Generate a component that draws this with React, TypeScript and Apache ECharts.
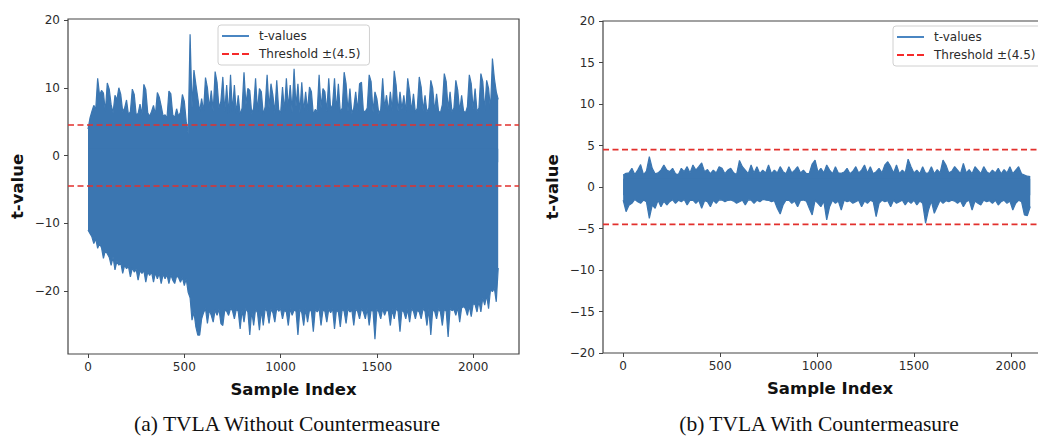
import React, { useEffect, useRef } from 'react';
import * as echarts from 'echarts';

// ---- data ----
// sample-index step between consecutive outline readings
const LEFT_STEP = 10;
const RIGHT_STEP = 15;

// (a) without countermeasure: upper / lower envelope of the t-value trace
const LEFT_UPPER = [
  3.9, 5.5, 6.5, 7.4, 6.8, 11.4, 8.9, 9.6, 9.2, 6.5,
  10.7, 9.8, 7.5, 6.3, 8.9, 8.2, 10.0, 9.0, 6.5, 7.0,
  8.2, 6.0, 6.5, 9.8, 9.0, 6.0, 6.2, 7.6, 6.0, 10.5,
  9.7, 6.3, 5.8, 6.5, 7.4, 6.0, 9.3, 8.6, 7.3, 5.8,
  6.0, 5.5, 9.5, 9.1, 6.0, 5.6, 6.9, 5.8, 6.4, 9.0,
  8.0, 5.0, 3.2, 17.9, 7.0, 12.6, 10.5, 8.5, 6.5, 8.4,
  6.5, 11.5, 10.0, 7.0, 9.6, 6.5, 12.4, 10.8, 7.0, 8.0,
  11.6, 6.5, 10.4, 6.0, 11.9, 6.5, 10.4, 6.2, 8.9, 6.0,
  7.0, 12.3, 7.5, 9.9, 9.6, 6.2, 7.0, 11.4, 6.5, 9.9,
  9.4, 6.0, 7.2, 11.9, 7.0, 10.6, 8.9, 6.3, 11.1, 6.8,
  6.2, 10.1, 6.5, 11.4, 7.0, 10.4, 6.4, 12.8, 7.2, 10.6,
  6.3, 10.8, 6.5, 9.4, 6.6, 10.1, 9.4, 6.0, 6.8, 6.4,
  11.9, 7.0, 9.9, 9.4, 6.5, 11.4, 6.8, 7.5, 11.4, 6.6,
  10.6, 6.4, 7.0, 12.3, 10.6, 6.5, 9.9, 6.2, 7.0, 9.4,
  6.6, 10.6, 10.8, 6.5, 6.5, 7.0, 11.9, 10.9, 6.4, 9.4,
  8.4, 6.2, 6.8, 11.4, 7.0, 8.9, 6.5, 9.4, 6.6, 12.5,
  10.4, 6.5, 9.4, 6.8, 8.9, 6.4, 11.4, 9.4, 6.5, 9.1,
  6.3, 7.0, 11.6, 10.1, 6.6, 8.9, 6.4, 7.0, 11.1, 9.9,
  6.5, 9.1, 6.6, 6.3, 7.5, 12.1, 10.9, 6.8, 9.4, 6.4,
  7.0, 11.1, 9.6, 6.5, 8.9, 6.6, 6.3, 7.2, 11.9, 10.6,
  6.8, 9.9, 6.5, 7.0, 12.1, 10.9, 6.6, 11.1, 9.9, 6.8,
  14.3, 11.4, 9.4, 8.3,
];
const LEFT_LOWER = [
  -11.0, -11.5, -12.0, -13.0, -12.3, -13.7, -13.0, -13.6, -15.2, -14.0,
  -14.5, -15.0, -16.2, -15.0, -16.9, -15.6, -16.2, -15.8, -17.4, -16.2,
  -16.7, -16.4, -17.9, -16.6, -17.2, -16.8, -18.4, -17.0, -17.4, -17.0,
  -18.7, -17.2, -17.7, -17.2, -18.7, -17.3, -18.2, -17.4, -18.9, -17.5,
  -18.2, -17.6, -18.9, -17.6, -18.4, -18.9, -17.8, -18.0, -18.7, -18.0,
  -19.2, -18.2, -20.2, -21.0, -24.3, -23.1, -25.3, -26.5, -26.5, -24.1,
  -23.2, -22.6, -24.8, -22.8, -23.6, -24.6, -22.8, -23.6, -22.7, -24.8,
  -25.1, -22.8, -23.0, -23.6, -22.6, -22.9, -24.1, -22.7, -23.0, -25.6,
  -22.8, -24.6, -22.6, -23.1, -26.5, -22.9, -25.1, -22.7, -23.2, -25.8,
  -22.8, -25.1, -22.6, -23.0, -24.8, -22.7, -23.2, -24.6, -22.5, -23.0,
  -22.6, -24.1, -22.8, -23.1, -25.1, -22.6, -23.6, -22.8, -23.0, -26.5,
  -22.7, -23.2, -25.1, -22.6, -24.6, -22.8, -23.0, -26.0, -22.7, -23.1,
  -22.6, -25.1, -22.8, -23.0, -24.6, -22.7, -23.2, -22.6, -25.6, -22.8,
  -23.1, -25.3, -22.7, -23.0, -24.8, -22.6, -23.1, -22.8, -25.1, -22.7,
  -23.0, -24.1, -22.6, -23.1, -24.1, -22.6, -25.1, -22.8, -23.0, -27.1,
  -22.7, -23.1, -24.1, -22.6, -23.6, -22.8, -23.0, -25.1, -22.7, -24.1,
  -22.6, -23.0, -26.0, -22.8, -23.1, -24.1, -22.7, -24.6, -22.6, -23.0,
  -24.1, -22.8, -23.1, -24.1, -22.6, -23.0, -25.1, -22.7, -26.5, -22.8,
  -23.0, -24.1, -22.6, -23.1, -25.1, -22.7, -23.0, -26.8, -22.6, -22.9,
  -22.7, -23.6, -22.4, -24.6, -22.5, -22.3, -22.6, -23.6, -22.2, -23.8,
  -21.9, -22.0, -23.1, -21.5, -23.1, -21.0, -22.1, -20.6, -22.6, -19.8,
  -20.1, -19.6, -21.6, -16.6,
];

// (b) with countermeasure: upper / lower envelope of the t-value trace
const RIGHT_UPPER = [
  1.45, 1.65, 1.7, 2.25, 1.5, 2.04, 2.7, 1.5, 1.9, 3.65,
  2.25, 1.6, 1.7, 2.04, 2.65, 2.04, 1.85, 2.25, 1.6, 1.5,
  2.25, 1.85, 2.45, 1.7, 2.65, 2.04, 2.45, 2.9, 1.85, 2.1,
  1.6, 2.04, 1.7, 2.45, 2.25, 1.6, 2.04, 2.25, 1.7, 1.5,
  3.2, 2.45, 2.04, 1.6, 2.65, 1.7, 2.45, 1.6, 2.04, 1.7,
  2.65, 1.6, 2.04, 1.7, 2.45, 1.85, 1.6, 2.45, 1.7, 2.04,
  2.45, 1.7, 2.04, 1.6, 1.65, 2.77, 3.25, 1.8, 2.25, 1.7,
  2.65, 2.04, 1.6, 2.45, 1.7, 1.65, 1.8, 2.25, 1.6, 1.9,
  2.45, 1.7, 2.04, 2.65, 1.7, 2.45, 1.6, 1.85, 2.25, 1.7,
  2.65, 3.05, 2.45, 1.7, 2.65, 1.6, 2.04, 1.7, 3.35, 2.45,
  1.7, 2.04, 1.6, 2.45, 1.65, 1.7, 2.45, 1.6, 2.1, 1.7,
  3.25, 2.65, 1.7, 1.9, 2.45, 2.04, 1.6, 2.85, 1.7, 2.1,
  1.6, 2.45, 2.04, 1.6, 2.45, 1.85, 1.6, 2.04, 1.7, 2.25,
  1.6, 2.1, 1.7, 2.45, 1.6, 2.04, 2.45, 1.6, 1.45, 1.3,
  1.24,
];
const RIGHT_LOWER = [
  -1.57, -2.97, -2.2, -1.97, -1.5, -1.77, -1.97, -1.57, -1.77, -3.77,
  -2.17, -2.57, -1.6, -2.37, -1.7, -2.17, -1.77, -1.55, -1.97, -1.6,
  -1.77, -1.5, -2.17, -1.6, -1.57, -1.97, -1.6, -2.57, -1.65, -1.77,
  -2.37, -1.6, -1.97, -1.55, -1.57, -1.77, -1.6, -1.57, -1.7, -1.97,
  -1.77, -1.6, -2.17, -1.55, -1.57, -1.97, -1.6, -1.77, -1.5, -1.57,
  -1.6, -1.77, -1.65, -2.57, -3.25, -2.17, -1.6, -1.57, -1.97, -1.7,
  -2.37, -1.6, -1.57, -1.7, -2.57, -3.37, -1.6, -1.97, -2.37, -1.7,
  -3.97, -2.37, -1.6, -1.97, -1.7, -2.77, -1.6, -1.77, -1.65, -1.97,
  -1.77, -1.6, -2.37, -1.7, -1.97, -1.6, -1.77, -3.57, -1.97, -1.6,
  -1.77, -1.65, -2.37, -1.6, -1.97, -1.77, -1.6, -2.17, -1.65, -1.97,
  -1.6, -2.17, -1.7, -1.97, -4.37, -2.77, -1.7, -3.17, -2.37, -1.6,
  -1.97, -1.65, -1.77, -1.6, -1.7, -1.97, -1.65, -2.37, -1.77, -1.6,
  -2.77, -1.7, -1.97, -2.17, -1.6, -1.77, -1.65, -1.97, -1.6, -2.17,
  -1.77, -1.6, -1.97, -1.7, -2.77, -1.97, -1.6, -1.77, -3.37, -3.45,
  -2.37,
];

const THRESHOLD = 4.5;
const X_TICKS = [0, 500, 1000, 1500, 2000];
const LEFT_Y_TICKS = [-20, -10, 0, 10, 20];
const RIGHT_Y_TICKS = [-20, -15, -10, -5, 0, 5, 10, 15, 20];
const SERIES_NAME = 't-values';
const THRESH_NAME = 'Threshold \u00b1(4.5)';
const X_NAME = 'Sample Index';
const Y_NAME = 't-value';
const CAPTION_A = '(a) TVLA Without Countermeasure';
const CAPTION_B = '(b) TVLA With Countermeasure';

// ---- styling ----
const FONT = 'DejaVu Sans';
const BLUE = '#3b76b1';
const LEGEND_BLUE = '#4a86c2';
const RED = '#e2302d';
const LEGEND_RED = '#f52a2a';
const AXIS_COLOR = '#444';
const TEXT_COLOR = '#2b2b2b';
const X_MIN = -104;
const X_MAX = 2238;
const SOLID_ICON = 'path://M0,0H27V2H0Z';
const DASH_ICON = 'path://M0,0H7V2H0Z M10,0H17V2H10Z M20,0H27V2H20Z';

const toPairs = (vals: number[], step: number) => vals.map((v, i) => [i * step, v]);
const fmt = (v: number) => (v < 0 ? '\u2212' + Math.abs(v) : String(v));

function makeXAxis(gridIndex: number) {
  return {
    type: 'value',
    gridIndex,
    min: X_MIN,
    max: X_MAX,
    axisLine: { show: false, onZero: false },
    splitLine: { show: false },
    axisTick: { show: true, customValues: X_TICKS, length: 4, lineStyle: { color: AXIS_COLOR, width: 1 } },
    axisLabel: { customValues: X_TICKS, formatter: fmt, margin: 7, fontSize: 12, fontFamily: FONT, color: TEXT_COLOR },
    name: X_NAME,
    nameLocation: 'middle',
    nameGap: 27,
    nameTextStyle: { fontSize: 16.5, fontWeight: 'bold', fontFamily: FONT, color: '#111' },
  };
}

function makeYAxis(gridIndex: number, min: number, max: number, ticks: number[]) {
  return {
    type: 'value',
    gridIndex,
    min,
    max,
    axisLine: { show: false, onZero: false },
    splitLine: { show: false },
    axisTick: { show: true, customValues: ticks, length: 4, lineStyle: { color: AXIS_COLOR, width: 1 } },
    axisLabel: { customValues: ticks, formatter: fmt, margin: 8, fontSize: 12, fontFamily: FONT, color: TEXT_COLOR },
    name: Y_NAME,
    nameLocation: 'middle',
    nameGap: 42,
    nameRotate: 90,
    nameTextStyle: { fontSize: 16.5, fontWeight: 'bold', fontFamily: FONT, color: '#111' },
  };
}

// upper outline fills down to a little below zero, lower outline up to a little above,
// so the two filled halves overlap and leave no seam
function traceSeries(idx: number, vals: number[], step: number, origin: number) {
  return {
    type: 'line',
    name: SERIES_NAME,
    xAxisIndex: idx,
    yAxisIndex: idx,
    data: toPairs(vals, step),
    symbol: 'none',
    showSymbol: false,
    lineStyle: { color: BLUE, width: 1.2 },
    itemStyle: { color: LEGEND_BLUE, borderWidth: 0 },
    areaStyle: { color: BLUE, opacity: 1, origin },
    z: 2,
  };
}

function thresholdSeries(idx: number, value: number) {
  return {
    type: 'line',
    name: THRESH_NAME,
    xAxisIndex: idx,
    yAxisIndex: idx,
    data: [[X_MIN, value], [X_MAX, value]],
    symbol: 'none',
    showSymbol: false,
    lineStyle: { color: RED, width: 1.6, type: [6, 3.5] },
    itemStyle: { color: LEGEND_RED, borderWidth: 0 },
    z: 3,
  };
}

function makeLegend(left: number, top: number) {
  return {
    orient: 'vertical',
    left,
    top,
    data: [
      { name: SERIES_NAME, icon: SOLID_ICON },
      { name: THRESH_NAME, icon: DASH_ICON },
    ],
    itemWidth: 27,
    itemHeight: 2,
    itemGap: 6,
    padding: [5, 9, 5, 4],
    backgroundColor: 'rgba(255,255,255,0.85)',
    borderColor: '#d0d0d0',
    borderWidth: 1,
    borderRadius: 3,
    itemStyle: { borderWidth: 0 },
    textStyle: { fontSize: 12, fontFamily: FONT, color: TEXT_COLOR, lineHeight: 12, padding: [0, 0, 0, 5] },
  };
}

export default function App() {
  const ref = useRef<HTMLDivElement>(null);
  useEffect(() => {
    if (!ref.current) return;
    const chart = echarts.init(ref.current, undefined, { renderer: 'svg' });
    const gridBase = {
      show: true,
      borderColor: AXIS_COLOR,
      borderWidth: 1.2,
      backgroundColor: 'transparent',
      outerBoundsMode: 'none',
      containLabel: false,
    };
    chart.setOption({
      animation: false,
      backgroundColor: '#fff',
      grid: [
        { ...gridBase, left: 68, top: 19, width: 451, height: 335 },
        { ...gridBase, left: 603, top: 21, width: 454, height: 332 },
      ],
      xAxis: [makeXAxis(0), makeXAxis(1)],
      yAxis: [makeYAxis(0, -29.3, 20.15, LEFT_Y_TICKS), makeYAxis(1, -20, 20, RIGHT_Y_TICKS)],
      legend: [makeLegend(218, 25), makeLegend(893, 26)],
      series: [
        traceSeries(0, LEFT_UPPER, LEFT_STEP, -1),
        traceSeries(0, LEFT_LOWER, LEFT_STEP, 1),
        thresholdSeries(0, THRESHOLD),
        thresholdSeries(0, -THRESHOLD),
        traceSeries(1, RIGHT_UPPER, RIGHT_STEP, -1),
        traceSeries(1, RIGHT_LOWER, RIGHT_STEP, 1),
        thresholdSeries(1, THRESHOLD),
        thresholdSeries(1, -THRESHOLD),
      ],
      graphic: [
        {
          type: 'text',
          x: 287,
          y: 424,
          style: { text: CAPTION_A, fontSize: 21.5, fontFamily: 'Liberation Serif', fill: '#111', align: 'center', verticalAlign: 'middle' },
        },
        {
          type: 'text',
          x: 819,
          y: 424,
          style: { text: CAPTION_B, fontSize: 21.5, fontFamily: 'Liberation Serif', fill: '#111', align: 'center', verticalAlign: 'middle' },
        },
      ],
    });
    return () => chart.dispose();
  }, []);
  return <div ref={ref} style={{ position: 'fixed', left: 0, top: 0, width: 1038, height: 437, background: '#fff' }} />;
}
